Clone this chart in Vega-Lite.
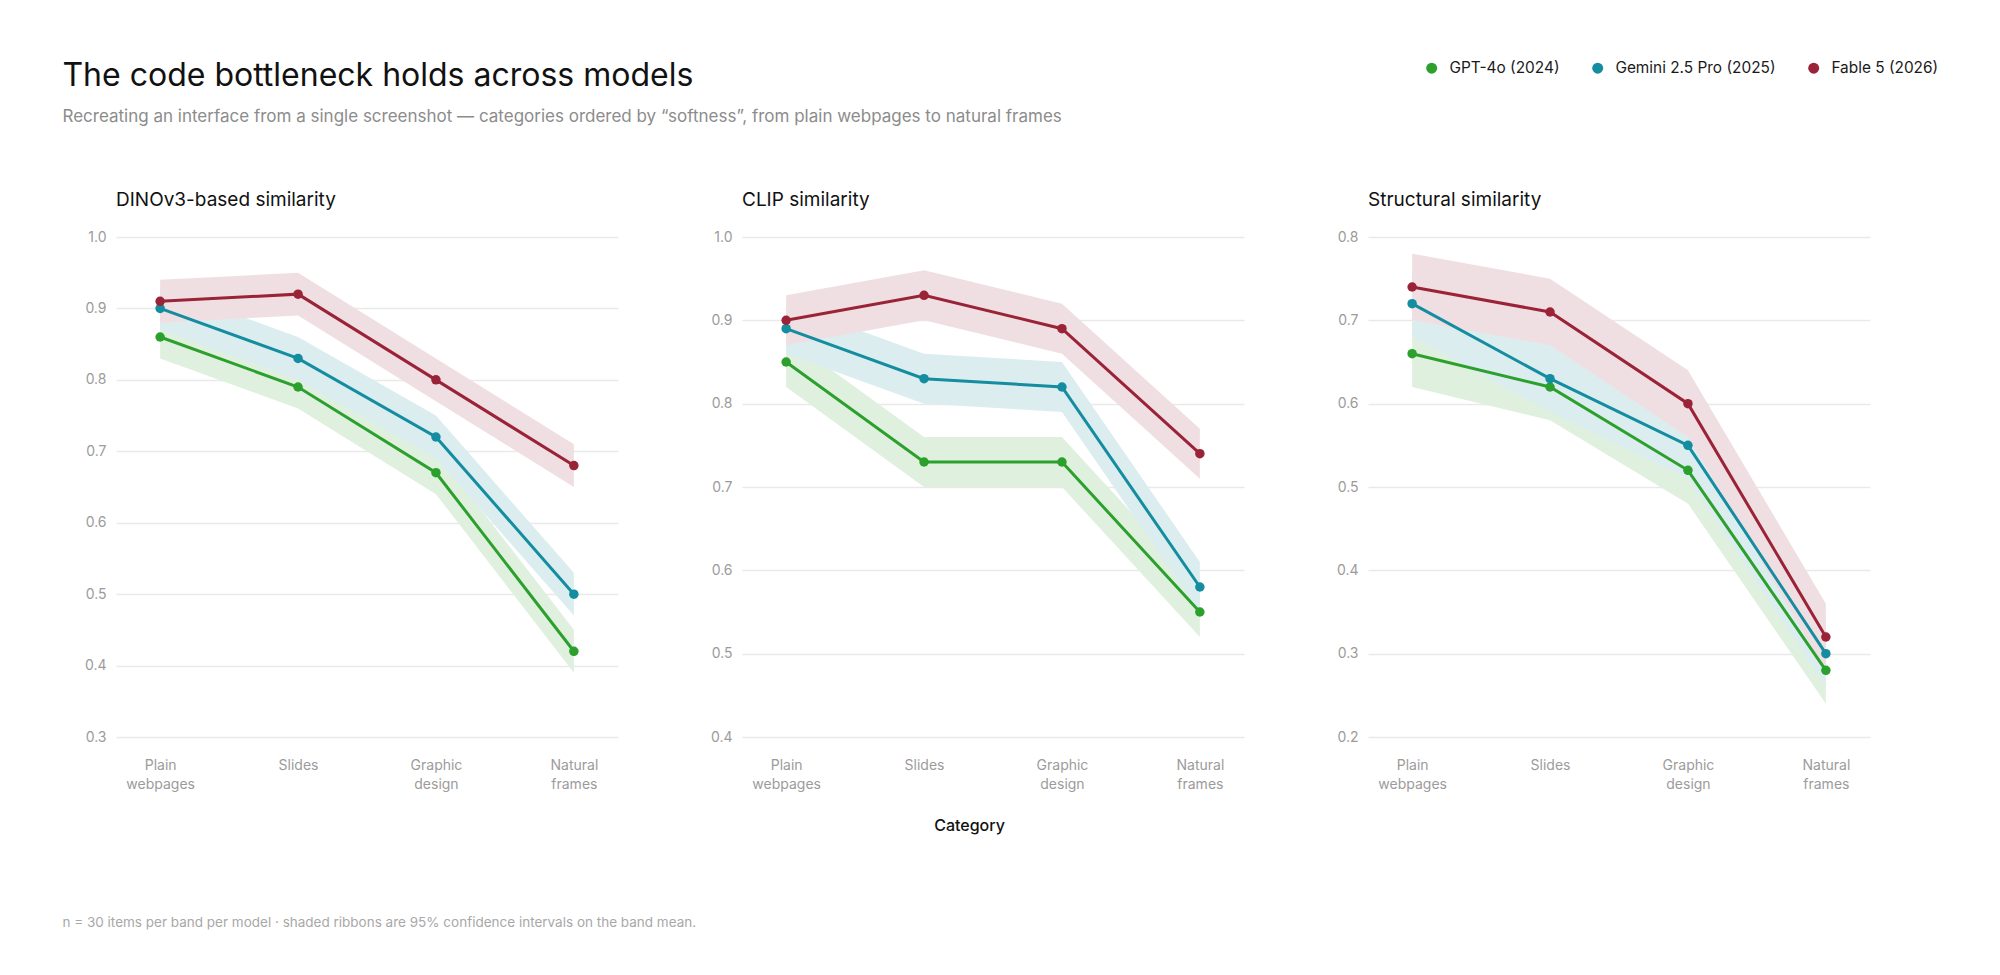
{
  "$schema": "https://vega.github.io/schema/vega-lite/v6.json",
  "background": "white",
  "padding": {"left": 62, "top": 60, "right": 40, "bottom": 20},
  "title": {
    "text": "The code bottleneck holds across models",
    "subtitle": "Recreating an interface from a single screenshot — categories ordered by “softness”, from plain webpages to natural frames",
    "anchor": "start",
    "frame": "bounds",
    "font": "Inter",
    "fontSize": 32,
    "fontWeight": 400,
    "color": "#111111",
    "subtitleFont": "Inter",
    "subtitleFontSize": 17,
    "subtitleColor": "#8c8c8c",
    "subtitlePadding": 16,
    "offset": -66
  },
  "datasets": {
    "scores": [
      {"metric": "DINOv3", "category": "Plain webpages", "model": "GPT-4o (2024)", "mean": 0.86, "lo": 0.83, "hi": 0.89},
      {"metric": "DINOv3", "category": "Slides", "model": "GPT-4o (2024)", "mean": 0.79, "lo": 0.76, "hi": 0.82},
      {"metric": "DINOv3", "category": "Graphic design", "model": "GPT-4o (2024)", "mean": 0.67, "lo": 0.64, "hi": 0.70},
      {"metric": "DINOv3", "category": "Natural frames", "model": "GPT-4o (2024)", "mean": 0.42, "lo": 0.39, "hi": 0.45},
      {"metric": "DINOv3", "category": "Plain webpages", "model": "Gemini 2.5 Pro (2025)", "mean": 0.90, "lo": 0.87, "hi": 0.93},
      {"metric": "DINOv3", "category": "Slides", "model": "Gemini 2.5 Pro (2025)", "mean": 0.83, "lo": 0.80, "hi": 0.86},
      {"metric": "DINOv3", "category": "Graphic design", "model": "Gemini 2.5 Pro (2025)", "mean": 0.72, "lo": 0.69, "hi": 0.75},
      {"metric": "DINOv3", "category": "Natural frames", "model": "Gemini 2.5 Pro (2025)", "mean": 0.50, "lo": 0.47, "hi": 0.53},
      {"metric": "DINOv3", "category": "Plain webpages", "model": "Fable 5 (2026)", "mean": 0.91, "lo": 0.88, "hi": 0.94},
      {"metric": "DINOv3", "category": "Slides", "model": "Fable 5 (2026)", "mean": 0.92, "lo": 0.89, "hi": 0.95},
      {"metric": "DINOv3", "category": "Graphic design", "model": "Fable 5 (2026)", "mean": 0.80, "lo": 0.77, "hi": 0.83},
      {"metric": "DINOv3", "category": "Natural frames", "model": "Fable 5 (2026)", "mean": 0.68, "lo": 0.65, "hi": 0.71},

      {"metric": "CLIP", "category": "Plain webpages", "model": "GPT-4o (2024)", "mean": 0.85, "lo": 0.82, "hi": 0.88},
      {"metric": "CLIP", "category": "Slides", "model": "GPT-4o (2024)", "mean": 0.73, "lo": 0.70, "hi": 0.76},
      {"metric": "CLIP", "category": "Graphic design", "model": "GPT-4o (2024)", "mean": 0.73, "lo": 0.70, "hi": 0.76},
      {"metric": "CLIP", "category": "Natural frames", "model": "GPT-4o (2024)", "mean": 0.55, "lo": 0.52, "hi": 0.58},
      {"metric": "CLIP", "category": "Plain webpages", "model": "Gemini 2.5 Pro (2025)", "mean": 0.89, "lo": 0.86, "hi": 0.92},
      {"metric": "CLIP", "category": "Slides", "model": "Gemini 2.5 Pro (2025)", "mean": 0.83, "lo": 0.80, "hi": 0.86},
      {"metric": "CLIP", "category": "Graphic design", "model": "Gemini 2.5 Pro (2025)", "mean": 0.82, "lo": 0.79, "hi": 0.85},
      {"metric": "CLIP", "category": "Natural frames", "model": "Gemini 2.5 Pro (2025)", "mean": 0.58, "lo": 0.55, "hi": 0.61},
      {"metric": "CLIP", "category": "Plain webpages", "model": "Fable 5 (2026)", "mean": 0.90, "lo": 0.87, "hi": 0.93},
      {"metric": "CLIP", "category": "Slides", "model": "Fable 5 (2026)", "mean": 0.93, "lo": 0.90, "hi": 0.96},
      {"metric": "CLIP", "category": "Graphic design", "model": "Fable 5 (2026)", "mean": 0.89, "lo": 0.86, "hi": 0.92},
      {"metric": "CLIP", "category": "Natural frames", "model": "Fable 5 (2026)", "mean": 0.74, "lo": 0.71, "hi": 0.77},

      {"metric": "Structural", "category": "Plain webpages", "model": "GPT-4o (2024)", "mean": 0.66, "lo": 0.62, "hi": 0.70},
      {"metric": "Structural", "category": "Slides", "model": "GPT-4o (2024)", "mean": 0.62, "lo": 0.58, "hi": 0.66},
      {"metric": "Structural", "category": "Graphic design", "model": "GPT-4o (2024)", "mean": 0.52, "lo": 0.48, "hi": 0.56},
      {"metric": "Structural", "category": "Natural frames", "model": "GPT-4o (2024)", "mean": 0.28, "lo": 0.24, "hi": 0.32},
      {"metric": "Structural", "category": "Plain webpages", "model": "Gemini 2.5 Pro (2025)", "mean": 0.72, "lo": 0.68, "hi": 0.76},
      {"metric": "Structural", "category": "Slides", "model": "Gemini 2.5 Pro (2025)", "mean": 0.63, "lo": 0.59, "hi": 0.67},
      {"metric": "Structural", "category": "Graphic design", "model": "Gemini 2.5 Pro (2025)", "mean": 0.55, "lo": 0.51, "hi": 0.59},
      {"metric": "Structural", "category": "Natural frames", "model": "Gemini 2.5 Pro (2025)", "mean": 0.30, "lo": 0.26, "hi": 0.34},
      {"metric": "Structural", "category": "Plain webpages", "model": "Fable 5 (2026)", "mean": 0.74, "lo": 0.70, "hi": 0.78},
      {"metric": "Structural", "category": "Slides", "model": "Fable 5 (2026)", "mean": 0.71, "lo": 0.67, "hi": 0.75},
      {"metric": "Structural", "category": "Graphic design", "model": "Fable 5 (2026)", "mean": 0.60, "lo": 0.56, "hi": 0.64},
      {"metric": "Structural", "category": "Natural frames", "model": "Fable 5 (2026)", "mean": 0.32, "lo": 0.28, "hi": 0.36}
    ]
  },
  "data": {"name": "scores"},
  "resolve": {"scale": {"color": "shared", "fill": "shared"}, "legend": {"color": "shared"}},
  "vconcat": [
    {
      "resolve": {"scale": {"color": "shared", "fill": "shared"}, "legend": {"color": "shared"}},
      "title": {
        "text": "n = 30 items per band per model · shaded ribbons are 95% confidence intervals on the band mean.",
        "orient": "bottom",
        "anchor": "start",
        "frame": "bounds",
        "dx": -22,
        "font": "Inter",
        "fontSize": 13.5,
        "fontWeight": 400,
        "color": "#a8a8a8",
        "offset": 82.5
      },
      "spacing": 92,
      "hconcat": [
        {
          "width": 502,
          "height": 500,
          "title": {"text": "DINOv3-based similarity", "anchor": "start", "frame": "group", "font": "Inter", "fontSize": 19, "fontWeight": 400, "color": "#111111", "offset": 20},
          "transform": [{"filter": "datum.metric === 'DINOv3'"}],
          "encoding": {
            "x": {"field": "category", "type": "ordinal", "sort": ["Plain webpages", "Slides", "Graphic design", "Natural frames"], "scale": {"type": "point", "padding": 0.32}, "title": null, "axis": {"labelExpr": "split(datum.label, ' ')"}}
          },
          "layer": [
            {"mark": {"type": "area", "opacity": 1}, "encoding": {"y": {"field": "lo", "type": "quantitative", "scale": {"domain": [0.3, 1.0], "nice": false, "zero": false}, "title": null, "axis": {"values": [0.3, 0.4, 0.5, 0.6, 0.7, 0.8, 0.9, 1.0], "format": ".1f"}}, "y2": {"field": "hi"}, "fill": {"field": "model", "type": "nominal", "scale": {"range": ["#f0dfe2", "#e0f0df", "#dcedf0"]}, "legend": null}}},
            {"mark": {"type": "line", "strokeWidth": 3}, "encoding": {"y": {"field": "mean", "type": "quantitative", "title": null}, "color": {"field": "model", "type": "nominal", "scale": {"domain": ["GPT-4o (2024)", "Gemini 2.5 Pro (2025)", "Fable 5 (2026)"], "range": ["#2ca02c", "#138d9f", "#9b2338"]}, "title": null}}},
            {"mark": {"type": "point", "filled": true, "size": 90, "opacity": 1}, "encoding": {"y": {"field": "mean", "type": "quantitative", "title": null}, "color": {"field": "model", "type": "nominal", "title": null}}}
          ]
        },
        {
          "width": 502,
          "height": 500,
          "title": {"text": "CLIP similarity", "anchor": "start", "frame": "group", "font": "Inter", "fontSize": 19, "fontWeight": 400, "color": "#111111", "offset": 20},
          "transform": [{"filter": "datum.metric === 'CLIP'"}],
          "encoding": {
            "x": {"field": "category", "type": "ordinal", "sort": ["Plain webpages", "Slides", "Graphic design", "Natural frames"], "scale": {"type": "point", "padding": 0.32}, "title": "Category", "axis": {"labelExpr": "split(datum.label, ' ')", "titleX": 227}}
          },
          "layer": [
            {"mark": {"type": "area", "opacity": 1}, "encoding": {"y": {"field": "lo", "type": "quantitative", "scale": {"domain": [0.4, 1.0], "nice": false, "zero": false}, "title": null, "axis": {"values": [0.4, 0.5, 0.6, 0.7, 0.8, 0.9, 1.0], "format": ".1f"}}, "y2": {"field": "hi"}, "fill": {"field": "model", "type": "nominal", "scale": {"range": ["#f0dfe2", "#e0f0df", "#dcedf0"]}, "legend": null}}},
            {"mark": {"type": "line", "strokeWidth": 3}, "encoding": {"y": {"field": "mean", "type": "quantitative", "title": null}, "color": {"field": "model", "type": "nominal", "scale": {"domain": ["GPT-4o (2024)", "Gemini 2.5 Pro (2025)", "Fable 5 (2026)"], "range": ["#2ca02c", "#138d9f", "#9b2338"]}, "title": null}}},
            {"mark": {"type": "point", "filled": true, "size": 90, "opacity": 1}, "encoding": {"y": {"field": "mean", "type": "quantitative", "title": null}, "color": {"field": "model", "type": "nominal", "title": null}}}
          ]
        },
        {
          "width": 502,
          "height": 500,
          "title": {"text": "Structural similarity", "anchor": "start", "frame": "group", "font": "Inter", "fontSize": 19, "fontWeight": 400, "color": "#111111", "offset": 20},
          "transform": [{"filter": "datum.metric === 'Structural'"}],
          "encoding": {
            "x": {"field": "category", "type": "ordinal", "sort": ["Plain webpages", "Slides", "Graphic design", "Natural frames"], "scale": {"type": "point", "padding": 0.32}, "title": null, "axis": {"labelExpr": "split(datum.label, ' ')"}}
          },
          "layer": [
            {"mark": {"type": "area", "opacity": 1}, "encoding": {"y": {"field": "lo", "type": "quantitative", "scale": {"domain": [0.2, 0.8], "nice": false, "zero": false}, "title": null, "axis": {"values": [0.2, 0.3, 0.4, 0.5, 0.6, 0.7, 0.8], "format": ".1f"}}, "y2": {"field": "hi"}, "fill": {"field": "model", "type": "nominal", "scale": {"range": ["#f0dfe2", "#e0f0df", "#dcedf0"]}, "legend": null}}},
            {"mark": {"type": "line", "strokeWidth": 3}, "encoding": {"y": {"field": "mean", "type": "quantitative", "title": null}, "color": {"field": "model", "type": "nominal", "scale": {"domain": ["GPT-4o (2024)", "Gemini 2.5 Pro (2025)", "Fable 5 (2026)"], "range": ["#2ca02c", "#138d9f", "#9b2338"]}, "title": null}}},
            {"mark": {"type": "point", "filled": true, "size": 90, "opacity": 1}, "encoding": {"y": {"field": "mean", "type": "quantitative", "title": null}, "color": {"field": "model", "type": "nominal", "title": null}}}
          ]
        }
      ]
    }
  ],
  "config": {
    "font": "Inter",
    "view": {"stroke": null},
    "axis": {"domain": false, "ticks": false, "labelFont": "Inter", "labelColor": "#9b9b9b", "labelFontSize": 14, "titleFont": "Inter", "titleFontSize": 16, "titleFontWeight": 500, "titleColor": "#111111"},
    "axisY": {"grid": true, "gridColor": "#e9e9e9", "gridWidth": 1.3, "labelPadding": 10},
    "axisX": {"grid": false, "labelAngle": 0, "labelPadding": 21, "labelLineHeight": 19, "labelBaseline": "top", "titlePadding": 26},
    "legend": {
      "orient": "none",
      "legendX": 1308,
      "legendY": -177,
      "direction": "horizontal",
      "padding": 0,
      "symbolType": "circle",
      "symbolSize": 120,
      "symbolOpacity": 1,
      "symbolStrokeWidth": 0,
      "labelFont": "Inter",
      "labelFontSize": 15.4,
      "labelLimit": 400,
      "labelColor": "#1a1a1a",
      "labelOffset": 10,
      "columnPadding": 30,
      "title": null
    }
  }
}
